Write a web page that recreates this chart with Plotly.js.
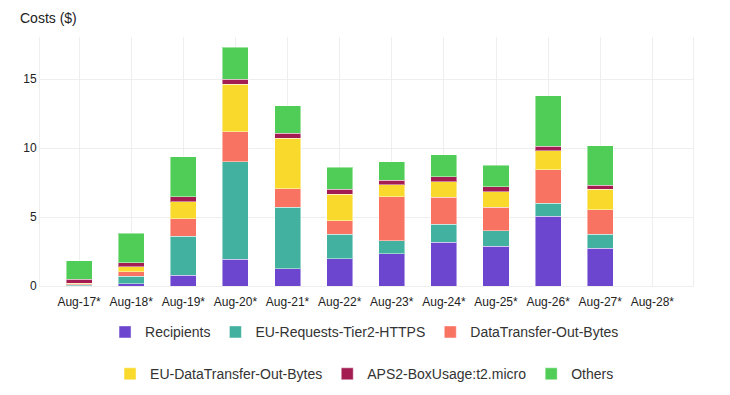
<!DOCTYPE html>
<html>
<head>
<meta charset="utf-8">
<script src="https://cdn.plot.ly/plotly-3.0.1.min.js"></script>
<style>html,body{margin:0;padding:0;background:#fff;}#chart{width:730px;height:395px;}</style>
</head>
<body>
<div id="chart"></div>
<script>
const categories = ["Aug-17*","Aug-18*","Aug-19*","Aug-20*","Aug-21*","Aug-22*","Aug-23*","Aug-24*","Aug-25*","Aug-26*","Aug-27*","Aug-28*"];
const seriesNames = ["Recipients","EU-Requests-Tier2-HTTPS","DataTransfer-Out-Bytes","EU-DataTransfer-Out-Bytes","APS2-BoxUsage:t2.micro","Others"];
const recipients   = [0.02, 0.16, 0.78, 1.94, 1.24, 1.99, 2.35, 3.17, 2.88, 5.05, 2.73, 0];
const euRequests   = [0.08, 0.55, 2.82, 7.09, 4.48, 1.76, 0.92, 1.30, 1.11, 0.97, 1.01, 0];
const dataTransfer = [0.05, 0.32, 1.28, 2.17, 1.34, 0.99, 3.20, 1.95, 1.71, 2.43, 1.79, 0];
const euDataTrans  = [0.05, 0.36, 1.23, 3.45, 3.67, 1.90, 0.87, 1.14, 1.14, 1.35, 1.47, 0];
const aps2Box      = [0.29, 0.31, 0.36, 0.34, 0.34, 0.36, 0.34, 0.36, 0.36, 0.34, 0.29, 0];
const others       = [1.35, 2.13, 2.91, 2.31, 2.02, 1.62, 1.32, 1.59, 1.57, 3.66, 2.87, 0];
const yTicks = [0, 5, 10, 15];

const values = [recipients, euRequests, dataTransfer, euDataTrans, aps2Box, others];
const colors = ["#6c46cf", "#43b1a0", "#f97362", "#f9d92b", "#a31d52", "#4fcd56"];

const traces = values.map((v, i) => ({
  type: "bar",
  name: seriesNames[i],
  x: categories,
  y: v,
  marker: {color: colors[i], line: {color: "rgba(255,255,255,0.45)", width: 1}},
  legend: i < 3 ? "legend" : "legend2",
  hoverinfo: "x+y+name"
}));

const font = {family: "Liberation Sans, Arial, sans-serif", size: 12, color: "#333"};
const legendCommon = {
  orientation: "h", xref: "paper", x: 0.497, xanchor: "center",
  yanchor: "middle", font: {family: font.family, size: 14, color: "#333"},
  bgcolor: "rgba(0,0,0,0)", traceorder: "normal"
};

const layout = {
  width: 730, height: 395,
  margin: {l: 40, r: 37, t: 37, b: 108.5, pad: 0, autoexpand: false},
  paper_bgcolor: "#fff", plot_bgcolor: "#fff",
  font: font,
  barmode: "stack",
  bargap: 0.5,
  title: {text: "Costs ($)", xref: "container", yref: "container", x: 20/730, xanchor: "left", y: 1 - 18/395, yanchor: "middle", font: {family: font.family, size: 14, color: "#222"}},
  xaxis: {type: "category", range: [-0.75, 11.78], showgrid: true, gridcolor: "#eeeeee", showline: true, linecolor: "#eeeeee", ticks: "", tickangle: 0, ticklabelstandoff: 5, automargin: false, tickfont: {size: 12, color: "#222"}, fixedrange: true},
  yaxis: {range: [0, 18.06], tickvals: yTicks, ticktext: yTicks.map(String), showgrid: true, gridcolor: "#eeeeee", zeroline: false, showline: true, mirror: true, linecolor: "#eeeeee", ticks: "", automargin: false, tickfont: {size: 12, color: "#222"}, fixedrange: true},
  legend: Object.assign({}, legendCommon, {y: (286.5 - 333) / 249.8, yref: "paper"}),
  legend2: Object.assign({}, legendCommon, {y: (286.5 - 375) / 249.8, yref: "paper"}),
  showlegend: true
};

Plotly.newPlot("chart", traces, layout, {displayModeBar: false, staticPlot: true});
</script>
</body>
</html>
